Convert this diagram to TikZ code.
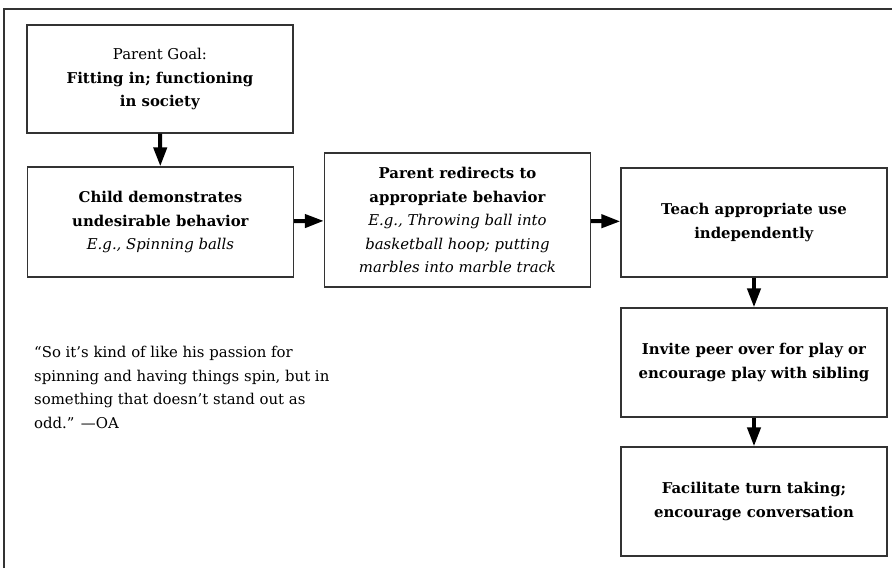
\documentclass[tikz,border=0pt]{standalone}
\usepackage{fontspec}
\setmainfont{DejaVu Serif}
\usetikzlibrary{arrows.meta}

\begin{document}
\begin{tikzpicture}[x=1pt, y=-1pt,
  box/.style={draw=black!80, line width=1.2pt, minimum width=266pt, align=center, inner sep=0pt, font=\fontsize{14.9}{23.5}\selectfont},
  >={Triangle[length=19pt, width=13pt]}]

\useasboundingbox (0,0) rectangle (892,568);
\draw[black!80, line width=1.4pt] (4,568) -- (4,9) -- (892,9);

\node[box, minimum height=108pt] (b1) at (160,79) {Parent Goal:\\\textbf{Fitting in; functioning}\\\textbf{in society}};
\node[box, minimum height=110pt] (b2) at (160.5,222) {\textbf{Child demonstrates}\\\textbf{undesirable behavior}\\\textit{E.g., Spinning balls}};
\node[box, minimum height=134pt] (b3) at (457.5,220) {\textbf{Parent redirects to}\\\textbf{appropriate behavior}\\\textit{E.g., Throwing ball into}\\\textit{basketball hoop; putting}\\\textit{marbles into marble track}};
\node[box, minimum height=109pt] (b4) at (754,222.5) {\textbf{Teach appropriate use}\\\textbf{independently}};
\node[box, minimum height=109pt] (b5) at (754,362.5) {\textbf{Invite peer over for play or}\\\textbf{encourage play with sibling}};
\node[box, minimum height=109pt] (b6) at (754,501.5) {\textbf{Facilitate turn taking;}\\\textbf{encourage conversation}};

\begin{scope}[line width=4pt]
\draw[->] (b1) edge (b2);
\draw[->] (b2) edge (b3);
\draw[->] (b3) edge (b4);
\draw[->] (b4) edge (b5);
\draw[->] (b5) edge (b6);
\end{scope}

\node[anchor=north west, align=left, inner sep=0pt, font=\fontsize{14.9}{23.5}\selectfont] (q) at (34,346) {“So it’s kind of like his passion for\\spinning and having things spin, but in\\something that doesn’t stand out as\\odd.” —OA};
\end{tikzpicture}
\end{document}
